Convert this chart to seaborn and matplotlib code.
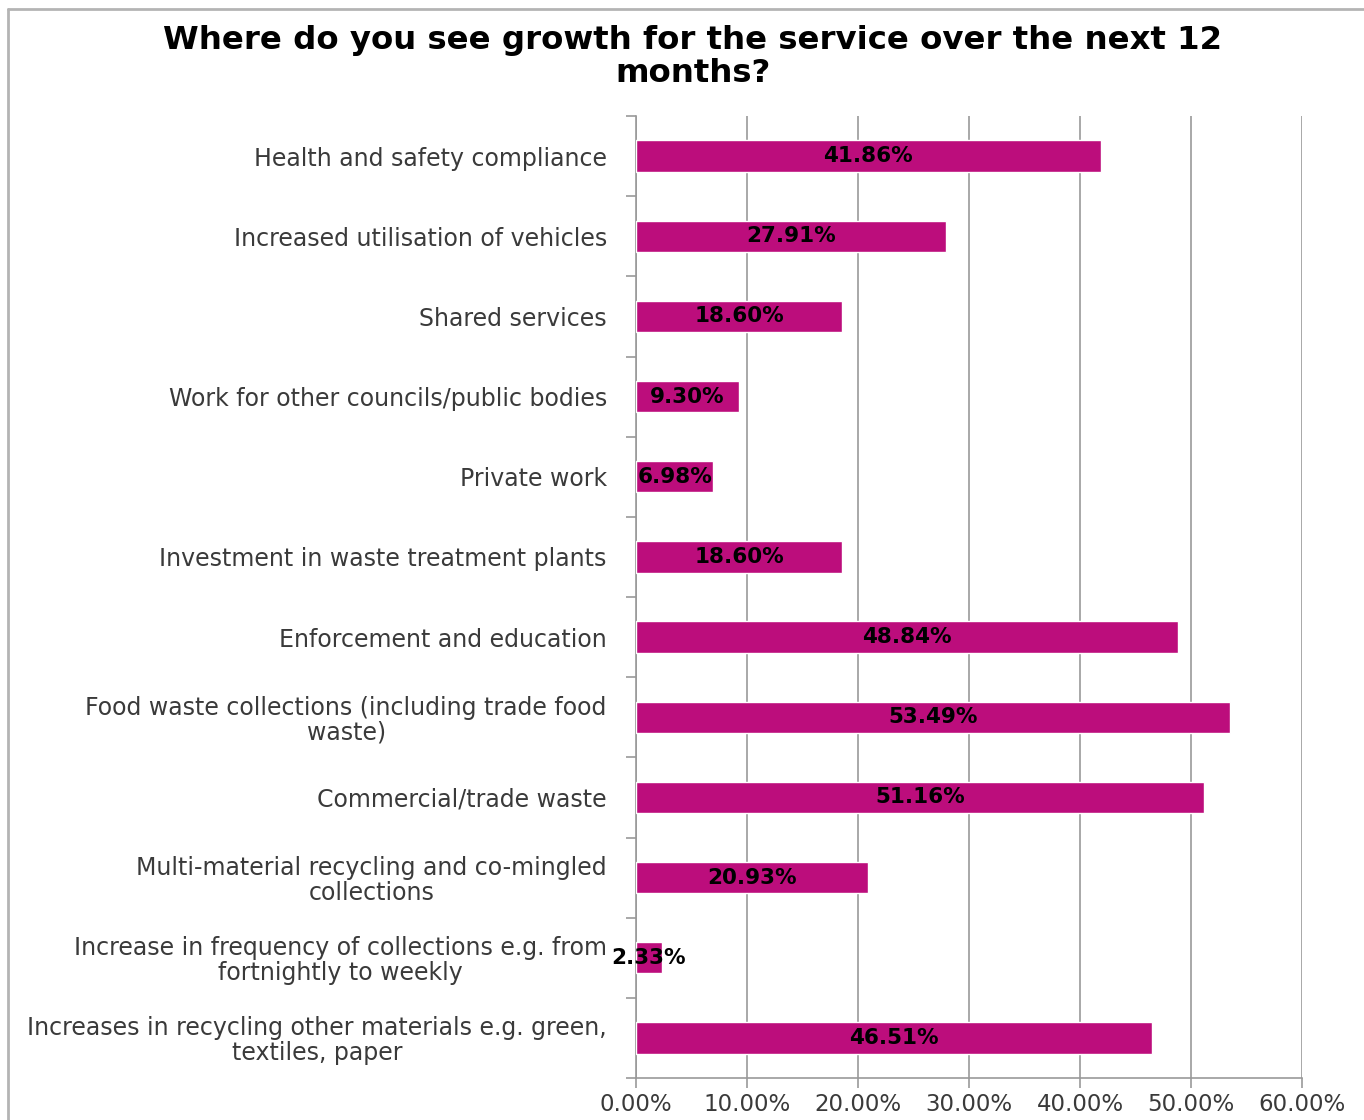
import matplotlib
matplotlib.use("Agg")
import matplotlib.pyplot as plt
from matplotlib.lines import Line2D
from matplotlib.ticker import FuncFormatter, FixedLocator
import seaborn as sns
import pandas as pd
import numpy as np

categories = [
    "Health and safety compliance",
    "Increased utilisation of vehicles",
    "Shared services",
    "Work for other councils/public bodies",
    "Private work",
    "Investment in waste treatment plants",
    "Enforcement and education",
    "Food waste collections (including trade food\nwaste)",
    "Commercial/trade waste",
    "Multi-material recycling and co-mingled\ncollections",
    "Increase in frequency of collections e.g. from\nfortnightly to weekly",
    "Increases in recycling other materials e.g. green,\ntextiles, paper",
]
values = [41.86, 27.91, 18.60, 9.30, 6.98, 18.60, 48.84, 53.49, 51.16, 20.93, 2.33, 46.51]
x_ticks = [0, 10, 20, 30, 40, 50, 60]
title = "Where do you see growth for the service over the next 12\nmonths?"

bar_color = "#BC0D7C"
grid_color = "#999999"
text_color = "#3A3A3A"

df = pd.DataFrame({"category": categories, "value": values})

sns.set_theme(style="white")
plt.rcParams["font.family"] = ["DejaVu Sans"]

fig = plt.figure(figsize=(13.64, 11.2), dpi=100)
ax = fig.add_axes([636 / 1364, 1 - 1078 / 1120, (1302 - 636) / 1364, (1078 - 116) / 1120])

sns.barplot(data=df, x="value", y="category", orient="h", color=bar_color,
            width=0.39, saturation=1, ax=ax, zorder=3)

ax.set_xlim(0, 60)
ax.set_ylim(len(categories) - 0.5, -0.5)
ax.set_xticks(x_ticks)
ax.xaxis.set_major_formatter(FuncFormatter(lambda v, _: f"{v:.2f}%"))
ax.set_xlabel("")
ax.set_ylabel("")

# vertical gridlines
ax.grid(axis="x", color=grid_color, linewidth=1.2, zorder=0)
ax.grid(axis="y", visible=False)
ax.set_axisbelow(True)

for side in ["top", "right"]:
    ax.spines[side].set_visible(False)
for side in ["left", "bottom"]:
    ax.spines[side].set_visible(True)
    ax.spines[side].set_color(grid_color)
    ax.spines[side].set_linewidth(1.2)

# category labels at centers, tick marks at category boundaries
ax.tick_params(axis="y", which="major", length=0, pad=21, labelsize=17,
               labelcolor=text_color)
ax.yaxis.set_minor_locator(FixedLocator(np.arange(-0.5, len(categories), 1.0)))
ax.tick_params(axis="y", which="minor", length=7, width=1.2, color=grid_color, left=True)
for lbl in ax.get_yticklabels():
    lbl.set_multialignment("center")
    lbl.set_linespacing(1.05)

ax.tick_params(axis="x", which="major", length=7, width=1.2, color=grid_color,
               bottom=True, labelsize=16.5, labelcolor=text_color, pad=4)

# value labels centred on each bar
for i, v in enumerate(values):
    ax.text(v / 2, i, f"{v:.2f}%", ha="center", va="center", fontsize=15.5,
            fontweight="bold", color="black", zorder=5)

fig.text(0.508, 1 - 57 / 1120, title, ha="center", va="center", fontsize=23.3,
         fontweight="bold", color="black", linespacing=1.1)

# light frame around the chart area
fig.add_artist(Line2D([8 / 1364, 8 / 1364], [0, 1 - 9 / 1120], transform=fig.transFigure,
                      color="#B4B4B4", linewidth=2))
fig.add_artist(Line2D([8 / 1364, 1], [1 - 9 / 1120, 1 - 9 / 1120], transform=fig.transFigure,
                      color="#B4B4B4", linewidth=2))

fig.savefig("out.png", dpi=100)
